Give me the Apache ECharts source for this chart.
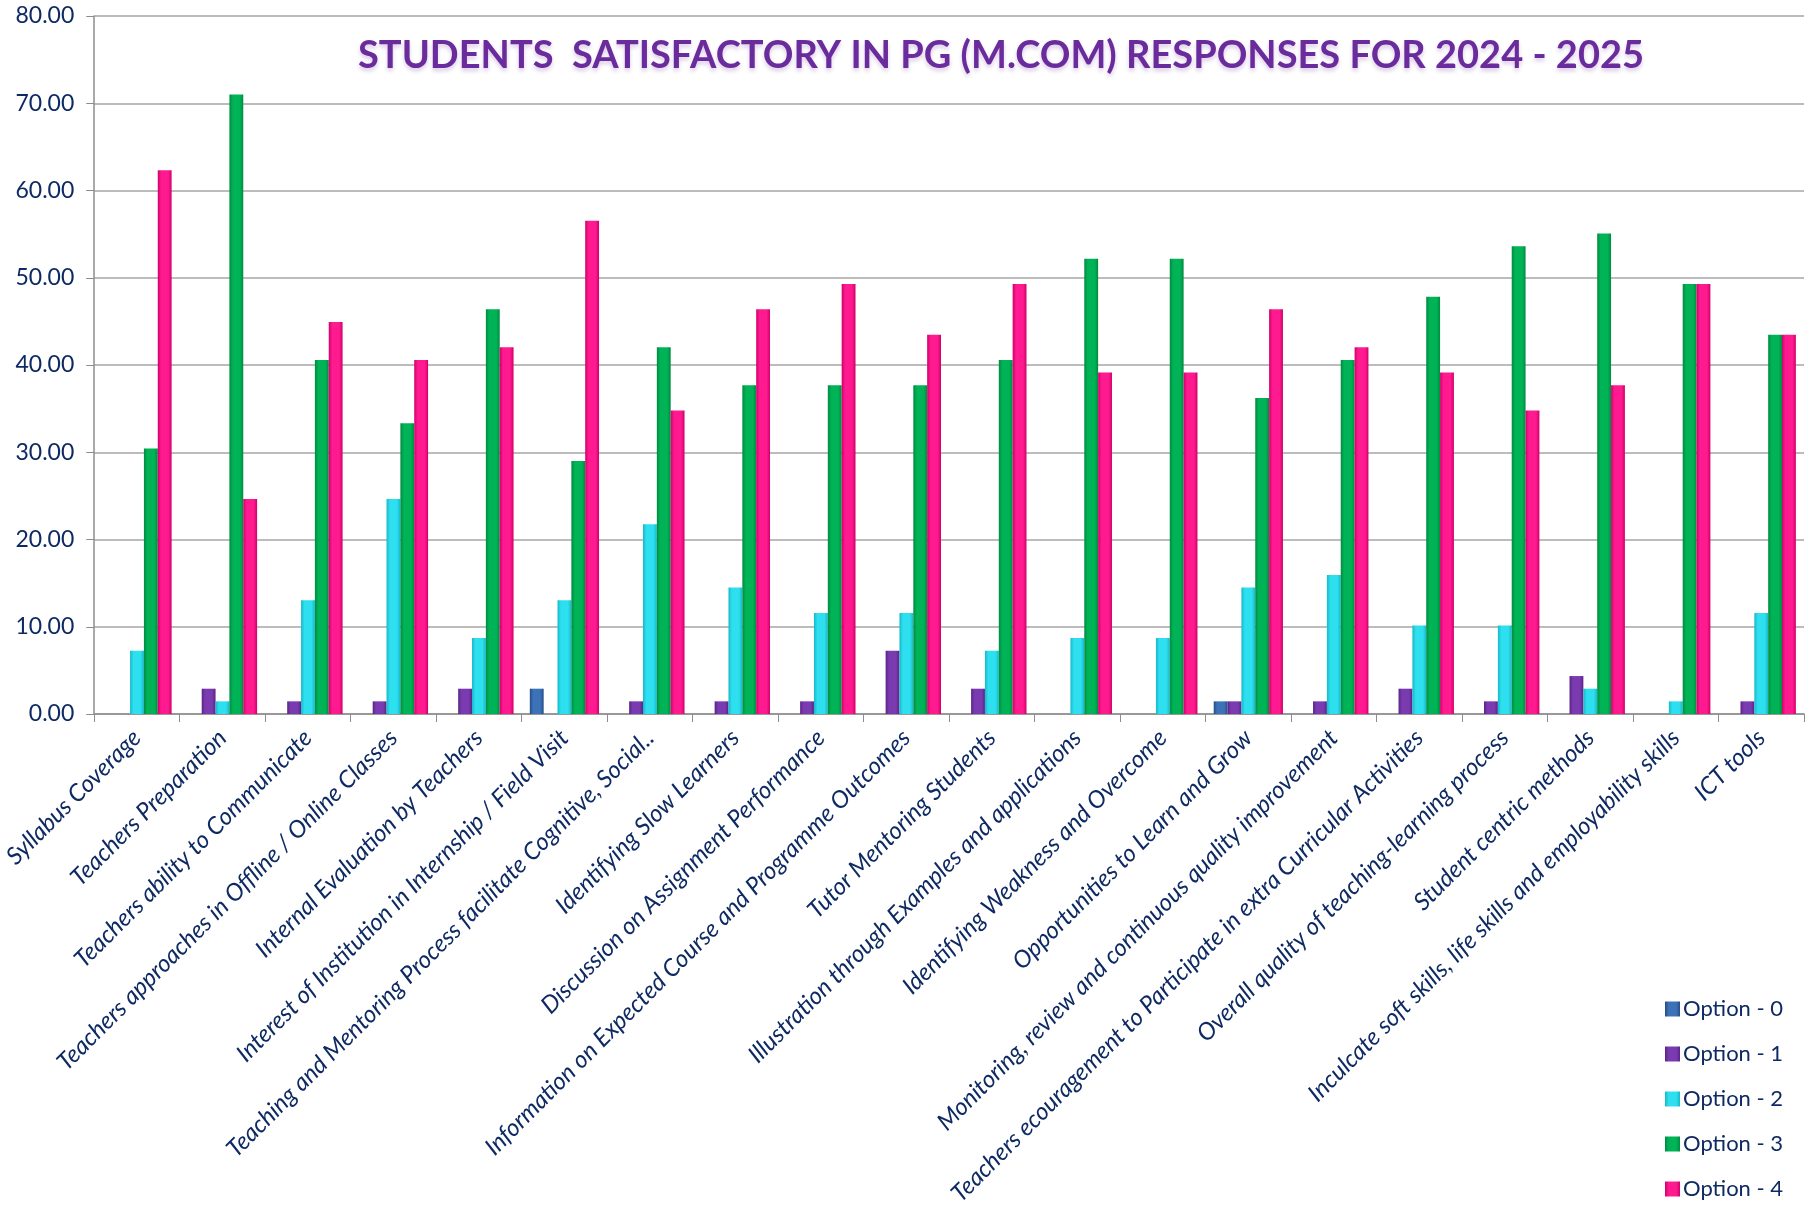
<!DOCTYPE html>
<html>
<head>
<meta charset="utf-8">
<title>Students Satisfactory PG (M.Com) 2024 - 2025</title>
<script src="https://cdn.jsdelivr.net/npm/echarts@6/dist/echarts.min.js"></script>
<style>
html, body { margin: 0; padding: 0; background: #fff; }
#chart { width: 1811px; height: 1215px; }
</style>
</head>
<body>
<div id="chart"></div>
<script>
// questions (x axis)
const categories = [
    'Syllabus Coverage',
    'Teachers Preparation',
    'Teachers ability to Communicate',
    'Teachers approaches in Offline / Online Classes',
    'Internal Evaluation by Teachers',
    'Interest of Institution in Internship / Field Visit',
    'Teaching and Mentoring Process facilitate Cognitive, Social..',
    'Identifying Slow Learners',
    'Discussion on Assignment Performance',
    'Information on Expected Course and Programme Outcomes',
    'Tutor Mentoring Students',
    'Illustration through Examples and applications',
    'Identifying Weakness and Overcome',
    'Opportunities to Learn and Grow',
    'Monitoring, review and continuous quality improvement',
    'Teachers ecouragement to Participate in extra Curricular Activities',
    'Overall quality of teaching-learning process',
    'Student centric methods',
    'Inculcate soft skills, life skills and employability skills',
    'ICT tools'
]

const seriesNames = ['Option - 0', 'Option - 1', 'Option - 2', 'Option - 3', 'Option - 4']

// percentages
const option0 = [0, 0, 0, 0, 0, 2.90, 0, 0, 0, 0, 0, 0, 0, 1.45, 0, 0, 0, 0, 0, 0]
const option1 = [0, 2.90, 1.45, 1.45, 2.90, 0, 1.45, 1.45, 1.45, 7.25, 2.90, 0, 0, 1.45, 1.45, 2.90, 1.45, 4.35, 0, 1.45]
const option2 = [7.25, 1.45, 13.04, 24.64, 8.70, 13.04, 21.74, 14.49, 11.59, 11.59, 7.25, 8.70, 8.70, 14.49, 15.94, 10.14, 10.14, 2.90, 1.45, 11.59]
const option3 = [30.43, 71.01, 40.58, 33.33, 46.38, 28.99, 42.03, 37.68, 37.68, 37.68, 40.58, 52.17, 52.17, 36.23, 40.58, 47.83, 53.62, 55.07, 49.28, 43.48]
const option4 = [62.32, 24.64, 44.93, 40.58, 42.03, 56.52, 34.78, 46.38, 49.28, 43.48, 49.28, 39.13, 39.13, 46.38, 42.03, 39.13, 34.78, 37.68, 49.28, 43.48]

const yTicks = [0, 10, 20, 30, 40, 50, 60, 70, 80]

const palette = [
    ['#244d85', '#3d72b8'],
    ['#5a2387', '#7a3bb0'],
    ['#16b8c9', '#2ee0ef'],
    ['#008a40', '#00b356'],
    ['#d0006a', '#ff1a8f']
]

const navy = '#0e2a63'

function barStyle(i) {
    return {
        color: {
            type: 'linear', x: 0, y: 0, x2: 1, y2: 0,
            colorStops: [
                { offset: 0, color: palette[i][0] },
                { offset: 0.25, color: palette[i][1] },
                { offset: 0.75, color: palette[i][1] },
                { offset: 1, color: palette[i][0] }
            ]
        },
        borderWidth: 0
    }
}

const allData = [option0, option1, option2, option3, option4]

const chart = echarts.init(document.getElementById('chart'))
const option = {
    backgroundColor: '#ffffff',
    animation: false,
    title: {
        text: 'STUDENTS  SATISFACTORY IN PG (M.COM) RESPONSES FOR 2024 - 2025',
        left: 996,
        textAlign: 'center',
        top: 32,
        textStyle: {
            fontFamily: 'Lato',
            fontWeight: 'bold',
            fontSize: 38,
            color: '#6a2c9c',
            textShadowColor: 'rgba(112,48,160,0.25)',
            textShadowBlur: 4,
            textShadowOffsetY: 3
        }
    },
    legend: {
        orient: 'vertical',
        left: 1660,
        top: 993,
        height: 280,
        itemWidth: 15,
        itemHeight: 15,
        itemGap: 23,
        icon: 'rect',
        data: seriesNames,
        textStyle: {
            fontFamily: 'Lato',
            fontSize: 22,
            color: navy,
            padding: [0, 0, 0, -2]
        }
    },
    grid: {
        left: 92,
        right: 7,
        top: 16,
        bottom: 501
    },
    xAxis: {
        type: 'category',
        data: categories,
        axisLine: { lineStyle: { color: '#8c8c8c', width: 1.5 } },
        axisTick: { show: true, length: 8, lineStyle: { color: '#8c8c8c' } },
        axisLabel: {
            interval: 0,
            rotate: 45,
            margin: 20,
            fontFamily: 'Lato',
            fontStyle: 'italic',
            fontSize: 24,
            color: navy
        }
    },
    yAxis: {
        type: 'value',
        min: yTicks[0],
        max: yTicks[yTicks.length - 1],
        interval: 10,
        axisLine: { show: true, lineStyle: { color: '#8c8c8c', width: 1.5 } },
        axisTick: { show: true, length: 8, lineStyle: { color: '#8c8c8c' } },
        splitLine: { lineStyle: { color: '#a6a6a6', width: 1.5 } },
        axisLabel: {
            margin: 20,
            fontFamily: 'Lato',
            fontSize: 23,
            color: navy,
            formatter: v => v.toFixed(2)
        }
    },
    series: seriesNames.map((name, i) => ({
        name: name,
        type: 'bar',
        barGap: '0%',
        barCategoryGap: '19%',
        itemStyle: barStyle(i),
        data: allData[i]
    }))
}
chart.setOption(option)
</script>
</body>
</html>
